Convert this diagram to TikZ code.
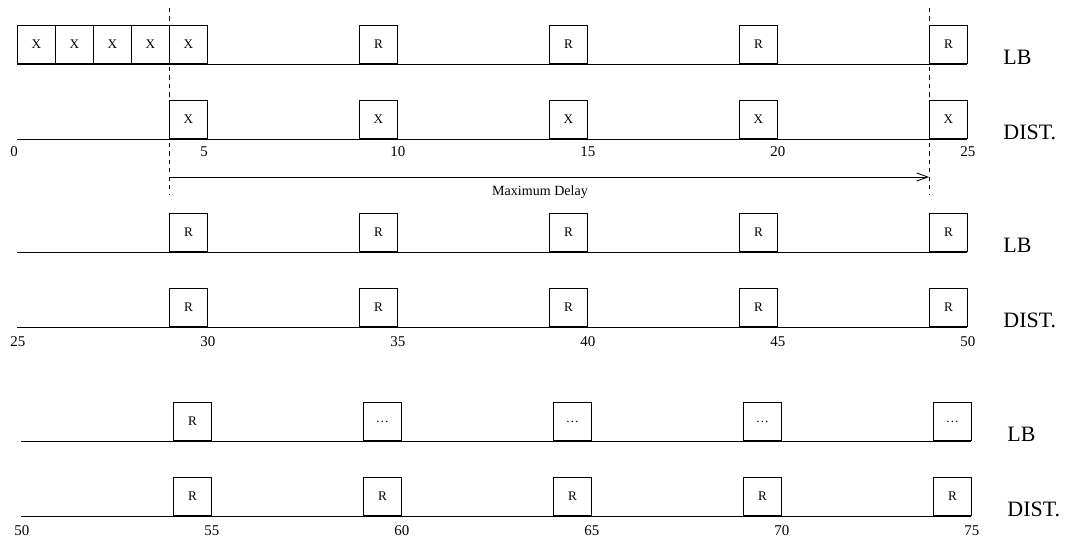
\documentclass[tikz,border=0pt]{standalone}
\usepackage{fontspec}
\setmainfont{Liberation Serif}
\usetikzlibrary{arrows.meta}
\tikzset{
  every picture/.style={line width=0.5pt},
  slot/.style={draw, fill=white, minimum width=0.76cm, minimum height=0.76cm, inner sep=0pt, anchor=south west, font=\fontsize{7.5}{8}\selectfont},
  tick/.style={anchor=west, inner sep=0pt, font=\fontsize{8.5}{9}\selectfont},
  rowname/.style={anchor=west, inner sep=0pt, font=\fontsize{12.5}{14}\selectfont},
  marker/.style={dash pattern=on 2.4pt off 2.4pt},
  delay/.style={-{Straight Barb[length=2.2mm, width=1.6mm]}},
  note/.style={font=\fontsize{8}{9}\selectfont, inner sep=0pt},
}
% one time line: name, baseline, row label, slot contents
\newcommand{\timeline}[4]{
  \coordinate (#1-start) at (17,#2);
  \coordinate (#1-end) at (967,#2);
  \draw (#1-start) -- (#1-end);
  \foreach \c [count=\i from 0] in {#4}
    \node[slot] (#1-\i) at ({169+190*\i},#2) {\c};
  \node[rowname] (#1-name) at (1003,#2-7) {#3};
}
% time marks under a line: name, values, height
\newcommand{\ticks}[3]{
  \foreach \n [count=\i from 0] in {#2}
    \node[tick] (#1-\i) at ({10+190*\i},#3) {\n};
}

\begin{document}
\begin{tikzpicture}[x=0.02cm, y=-0.02cm]
  \useasboundingbox (0,0) rectangle (1069,544);

  % first period
  \coordinate (mark1-top) at (169,8);
  \coordinate (mark1-bot) at (169,195);
  \coordinate (mark2-top) at (929,8);
  \coordinate (mark2-bot) at (929,195);
  \draw[marker] (mark1-top) -- (mark1-bot);
  \draw[marker] (mark2-top) -- (mark2-bot);

  \timeline{lb1}{64}{LB}{X,R,R,R,R}
  \foreach \i in {1,...,4}
    \node[slot] (lb1-x\i) at ({169-38*\i},64) {X};
  \timeline{dist1}{139}{DIST.}{X,X,X,X,X}
  \ticks{t1}{0,5,10,15,20,25}{152}

  \coordinate (delay-start) at (169,177);
  \coordinate (delay-end) at (929,177);
  \draw[delay] (delay-start) -- (delay-end);
  \node[note] (delay-text) at (540,192) {Maximum Delay};

  % second period
  \timeline{lb2}{252}{LB}{R,R,R,R,R}
  \timeline{dist2}{327}{DIST.}{R,R,R,R,R}
  \ticks{t2}{25,30,35,40,45,50}{342}

  % third period
  \begin{scope}[shift={(4,0)}]
    \timeline{lb3}{441}{LB}{R,\ldots,\ldots,\ldots,\ldots}
    \timeline{dist3}{516}{DIST.}{R,R,R,R,R}
    \ticks{t3}{50,55,60,65,70,75}{531}
  \end{scope}
\end{tikzpicture}
\end{document}
